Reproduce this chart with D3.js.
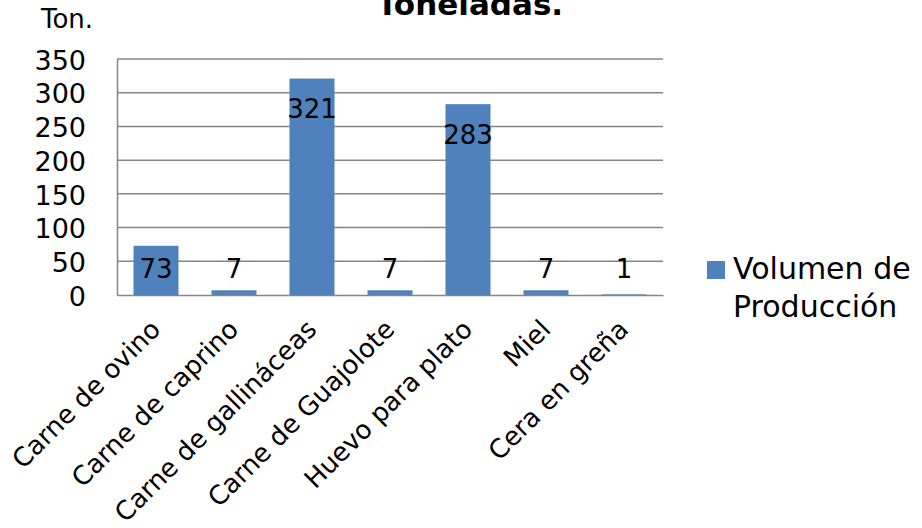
<!DOCTYPE html>
<html>
<head>
<meta charset="utf-8">
<script src="https://cdn.jsdelivr.net/npm/d3@7"></script>
<style>
  html, body { margin: 0; padding: 0; background: #fff; }
  svg { display: block; font-family: "DejaVu Sans", sans-serif; }
</style>
</head>
<body>
<svg id="chart" width="922" height="528"></svg>
<script>
// Production volume by product (tons)
const categories = ["Carne de ovino", "Carne de caprino", "Carne de gallináceas", "Carne de Guajolote", "Huevo para plato", "Miel", "Cera en greña"];
const values = [73, 7, 321, 7, 283, 7, 1];
const yTicks = [0, 50, 100, 150, 200, 250, 300, 350];
const seriesName = ["Volumen de", "Producción"];
const titleText = "Toneladas.";
const unitText = "Ton.";

const svg = d3.select("#chart");
const margin = { left: 117, right: 922 - 663, top: 59, bottom: 528 - 295 };
const plotW = 922 - margin.left - margin.right;
const plotH = 528 - margin.top - margin.bottom;

const x = d3.scaleBand().domain(categories).range([margin.left, margin.left + plotW])
  .paddingInner(0.423).paddingOuter(0.2115);
const y = d3.scaleLinear().domain([0, 350]).range([margin.top + plotH, margin.top]);

const gridColor = "#868686";
const barColor = "#4F81BD";

// Title (only its last line shows at the top edge)
svg.append("text")
  .attr("x", 470).attr("y", 15)
  .attr("text-anchor", "middle")
  .attr("font-weight", "bold")
  .attr("font-size", 31)
  .attr("fill", "#000")
  .text(titleText);

// Unit label
svg.append("text")
  .attr("x", 41).attr("y", 28)
  .attr("font-size", 26)
  .attr("fill", "#000")
  .text(unitText);

// Horizontal gridlines
svg.append("g").selectAll("line")
  .data(yTicks.filter(d => d > 0))
  .join("line")
  .attr("x1", margin.left).attr("x2", margin.left + plotW)
  .attr("y1", d => y(d)).attr("y2", d => y(d))
  .attr("stroke", gridColor).attr("stroke-width", 1.5);

// Y axis (labels only, plus the axis line)
const yAxis = svg.append("g")
  .attr("transform", `translate(${margin.left},0)`)
  .call(d3.axisLeft(y).tickValues(yTicks).tickSize(0).tickPadding(31).tickFormat(d3.format("d")));
yAxis.select(".domain").attr("stroke", gridColor).attr("stroke-width", 1.5);
yAxis.selectAll("text")
  .attr("font-size", 27)
  .attr("font-family", "DejaVu Sans, sans-serif")
  .attr("fill", "#000")
  .attr("dy", "0.38em");

// Bars
svg.append("g").selectAll("rect")
  .data(values)
  .join("rect")
  .attr("x", (d, i) => x(categories[i]))
  .attr("width", x.bandwidth())
  .attr("y", d => y(d))
  .attr("height", d => y(0) - y(d))
  .attr("fill", barColor);

// X axis line and rotated category labels
const xAxis = svg.append("g")
  .attr("transform", `translate(0,${y(0)})`)
  .call(d3.axisBottom(x).tickSize(0).tickFormat(""));
xAxis.select(".domain").attr("stroke", gridColor).attr("stroke-width", 1.5);

svg.append("g").selectAll("text")
  .data(categories)
  .join("text")
  .attr("transform", d => `translate(${x(d) + x.bandwidth() / 2 + 6},${y(0) + 36}) rotate(-45)`)
  .attr("text-anchor", "end")
  .attr("font-size", 26)
  .attr("fill", "#000")
  .text(d => d);

// Value labels near the top of each bar
svg.append("g").selectAll("text")
  .data(values)
  .join("text")
  .attr("x", (d, i) => x(categories[i]) + x.bandwidth() / 2)
  .attr("y", d => Math.min(y(d) + 39.5, y(0) - 17))
  .attr("text-anchor", "middle")
  .attr("font-size", 26)
  .attr("fill", "#000")
  .text(d => d);

// Legend
const legend = svg.append("g");
legend.append("rect")
  .attr("x", 707).attr("y", 261).attr("width", 18).attr("height", 18)
  .attr("fill", barColor);
legend.selectAll("text")
  .data(seriesName)
  .join("text")
  .attr("x", 733)
  .attr("y", (d, i) => 279 + i * 38)
  .attr("font-size", 30)
  .attr("fill", "#000")
  .text(d => d);
</script>
</body>
</html>
